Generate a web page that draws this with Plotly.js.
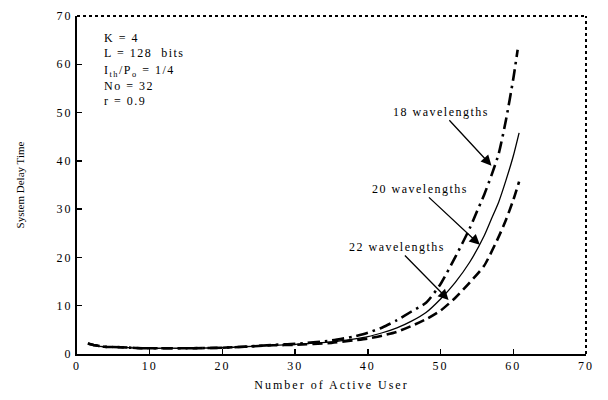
<!DOCTYPE html>
<html>
<head>
<meta charset="utf-8">
<script src="https://cdn.plot.ly/plotly-3.0.1.min.js"></script>
<style>
  html, body { margin: 0; padding: 0; background: #fff; }
  #chart { width: 608px; height: 400px; }
  .xtick text, .ytick text { letter-spacing: 2px; }
  .g-xtitle text { letter-spacing: 2px; }
  .annotation-text { letter-spacing: 1.5px; }
</style>
</head>
<body>
<div id="chart"></div>
<script>
// Data
const xVals18 = [1.5, 2.5, 3.7, 6, 9, 12, 16, 20, 23, 27, 30, 35, 38, 40, 42, 44, 46, 48, 50, 52, 54, 55, 56, 57, 58, 59, 60, 60.6];
const y18     = [2.2, 1.8, 1.5, 1.4, 1.2, 1.2, 1.2, 1.3, 1.5, 1.9, 2.1, 2.8, 3.6, 4.4, 5.5, 7.0, 8.8, 10.6, 14.5, 20.0, 26.0, 29.5, 33.0, 37.0, 41.5, 48.5, 57.0, 63.0];

const xVals20 = [1.5, 2.5, 3.7, 6, 9, 12, 16, 20, 23, 27, 30, 35, 38, 40, 42, 44, 46, 48, 50, 52, 54, 56, 57, 58, 59, 60, 60.8];
const y20     = [2.2, 1.8, 1.5, 1.4, 1.2, 1.2, 1.2, 1.3, 1.5, 1.8, 2.0, 2.5, 3.1, 3.6, 4.4, 5.4, 6.8, 8.6, 11.4, 14.8, 19.0, 24.5, 28.0, 31.5, 36.0, 41.0, 45.8];

const xVals22 = [1.5, 2.5, 3.7, 6, 9, 12, 16, 20, 23, 27, 30, 35, 38, 40, 42, 44, 46, 48, 50, 52, 54, 56, 58, 59, 60, 60.8];
const y22     = [2.2, 1.8, 1.5, 1.4, 1.2, 1.2, 1.2, 1.3, 1.5, 1.8, 1.9, 2.3, 2.8, 3.2, 3.8, 4.6, 5.8, 7.2, 9.0, 11.6, 14.8, 18.3, 24.3, 27.8, 31.9, 35.7];

const seriesNames = ["18 wavelengths", "20 wavelengths", "22 wavelengths"];
const arrowHeadX = [57.0, 55.4, 51.1];
const arrowHeadY = [39.0, 22.6, 11.2];

const infoLines = ["K = 4", "L = 128  bits", "I<sub>th</sub>/P<sub>o</sub> = 1/4", "No = 32", "r = 0.9"];

const xTitle = "Number of Active User";
const yTitle = "System Delay Time";

const serif = "'Liberation Serif', serif";

const traces = [
  { x: xVals18, y: y18, name: seriesNames[0], mode: "lines",
    line: { color: "#000", width: 2.6, dash: "12px,5px,2.5px,5px", shape: "spline", smoothing: 0.6 } },
  { x: xVals20, y: y20, name: seriesNames[1], mode: "lines",
    line: { color: "#000", width: 1.3, shape: "spline", smoothing: 0.6 } },
  { x: xVals22, y: y22, name: seriesNames[2], mode: "lines",
    line: { color: "#000", width: 2.6, dash: "10px,5px", shape: "spline", smoothing: 0.6 } }
];

const annOffsets = [[-50, -54], [-60, -56], [-52, -53]];
const annotations = seriesNames.map((n, i) => ({
  x: arrowHeadX[i], y: arrowHeadY[i], xref: "x", yref: "y",
  text: n, showarrow: true, arrowhead: 2, arrowsize: 1.6, arrowwidth: 1.3,
  arrowcolor: "#000", ax: annOffsets[i][0], ay: annOffsets[i][1],
  font: { family: serif, size: 12, color: "#000" }
}));

const infoY = [0.936, 0.890, 0.838, 0.793, 0.749];
infoLines.forEach((t, i) => {
  annotations.push({
    x: 0.049, y: infoY[i], xref: "paper", yref: "paper",
    xanchor: "left", yanchor: "middle", showarrow: false, text: t,
    font: { family: serif, size: 12, color: "#000" }
  });
});

const layout = {
  width: 608, height: 400,
  margin: { l: 77, r: 22, t: 16, b: 46 },
  paper_bgcolor: "#fff", plot_bgcolor: "#fff",
  showlegend: false,
  font: { family: serif, size: 12, color: "#000" },
  xaxis: {
    range: [0, 70], tickvals: [0, 10, 20, 30, 40, 50, 60, 70],
    showgrid: false, zeroline: false,
    showline: true, linecolor: "#000", linewidth: 2,
    ticks: "inside", ticklen: 5, tickwidth: 1.5, tickcolor: "#000",
    tickfont: { family: serif, size: 12, color: "#000" },
    title: { text: xTitle, font: { family: serif, size: 12, color: "#000" }, standoff: 8 }
  },
  yaxis: {
    range: [0, 70], tickvals: [0, 10, 20, 30, 40, 50, 60, 70],
    showgrid: false, zeroline: false,
    showline: true, linecolor: "#000", linewidth: 2,
    ticks: "inside", ticklen: 5, tickwidth: 1.5, tickcolor: "#000",
    tickfont: { family: serif, size: 12, color: "#000" },
    title: { text: yTitle, font: { family: serif, size: 11, color: "#000" }, standoff: 30 }
  },
  shapes: [
    { type: "line", xref: "paper", yref: "paper", x0: 0, x1: 1, y0: 1, y1: 1,
      line: { color: "#000", width: 2, dash: "dot" } },
    { type: "line", xref: "paper", yref: "paper", x0: 1, x1: 1, y0: 0, y1: 1,
      line: { color: "#000", width: 2, dash: "dot" } }
  ],
  annotations: annotations
};

Plotly.newPlot("chart", traces, layout, { displayModeBar: false, staticPlot: true });
</script>
</body>
</html>
